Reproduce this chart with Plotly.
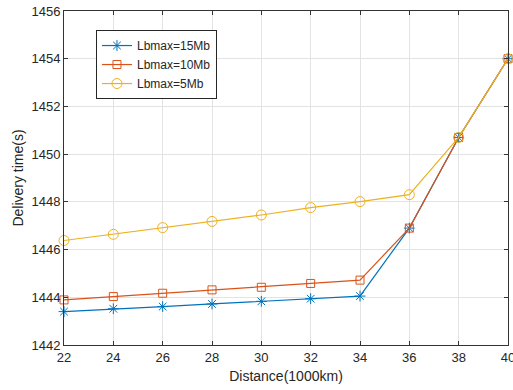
import plotly.graph_objects as go

distance = [22, 24, 26, 28, 30, 32, 34, 36, 38, 40]
lb15 = [1443.40, 1443.52, 1443.61, 1443.72, 1443.83, 1443.94, 1444.05, 1446.9, 1450.7, 1454.0]
lb10 = [1443.89, 1444.03, 1444.17, 1444.31, 1444.42, 1444.58, 1444.72, 1446.9, 1450.7, 1454.0]
lb5 = [1446.38, 1446.64, 1446.92, 1447.18, 1447.45, 1447.76, 1448.01, 1448.3, 1450.7, 1454.0]
names = ["Lbmax=15Mb", "Lbmax=10Mb", "Lbmax=5Mb"]
x_ticks = [22, 24, 26, 28, 30, 32, 34, 36, 38, 40]
y_ticks = [1442, 1444, 1446, 1448, 1450, 1452, 1454, 1456]

colors = ["#0072BD", "#D95319", "#EDB120"]
symbols = ["asterisk-open", "square-open", "circle-open"]
sizes = [9, 8, 10]

FONT = "Arial, Liberation Sans, sans-serif"

fig = go.Figure()
for ys, name, c, s, sz in zip([lb15, lb10, lb5], names, colors, symbols, sizes):
    fig.add_trace(go.Scatter(
        x=distance, y=ys, name=name, mode="lines+markers",
        line=dict(color=c, width=1.2),
        marker=dict(symbol=s, size=sz, color=c, line=dict(color=c, width=1)),
        cliponaxis=False,
    ))

axis_common = dict(
    showgrid=True, gridcolor="#E3E3E3", gridwidth=1,
    showline=True, linecolor="#333333", linewidth=1, mirror="ticks",
    ticks="inside", ticklen=4, tickcolor="#333333",
    tickfont=dict(family=FONT, size=13, color="#262626"),
    zeroline=False, automargin=False, ticklabeloverflow="allow",
)

fig.update_layout(
    width=513, height=390,
    margin=dict(l=64, r=5, t=11, b=45),
    paper_bgcolor="white", plot_bgcolor="white",
    xaxis=dict(range=[22, 40], tickvals=x_ticks,
               title=dict(text="Distance(1000km)", standoff=7,
                          font=dict(family=FONT, size=14, color="#262626")),
               **axis_common),
    yaxis=dict(range=[1442, 1456], tickvals=y_ticks,
               title=dict(text="Delivery time(s)", standoff=4,
                          font=dict(family=FONT, size=14, color="#262626")),
               **axis_common),
    legend=dict(x=0.072, y=0.943, xanchor="left", yanchor="top",
                bgcolor="white", bordercolor="#262626", borderwidth=1,
                font=dict(family=FONT, size=12, color="#262626"),
                tracegroupgap=0, itemwidth=30),
    showlegend=True,
)

fig.write_html("out.html", config={"displayModeBar": False},
               post_script="document.body.style.margin='0px';")
